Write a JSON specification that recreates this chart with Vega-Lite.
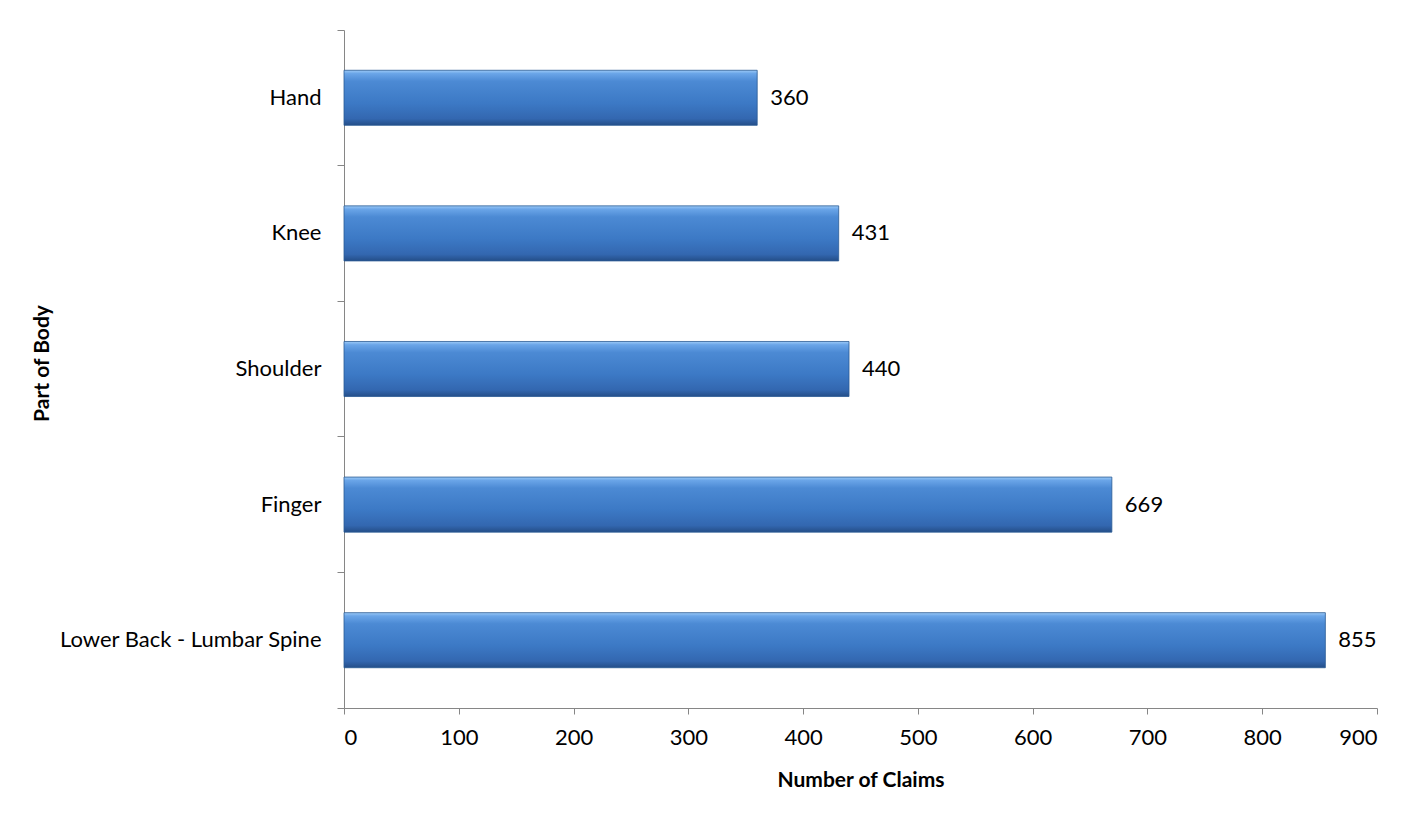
{
  "$schema": "https://vega.github.io/schema/vega-lite/v6.json",
  "autosize": {"type": "none"},
  "width": 1033,
  "height": 678,
  "padding": {"left": 344, "top": 30, "right": 42, "bottom": 115},
  "background": "white",
  "data": {
    "values": [
      {"part": "Hand", "claims": 360},
      {"part": "Knee", "claims": 431},
      {"part": "Shoulder", "claims": 440},
      {"part": "Finger", "claims": 669},
      {"part": "Lower Back - Lumbar Spine", "claims": 855}
    ]
  },
  "config": {
    "view": {"stroke": null},
    "font": "Lato",
    "axis": {
      "domainColor": "#868686",
      "tickColor": "#868686",
      "labelColor": "#000000",
      "titleColor": "#000000",
      "labelFont": "Lato",
      "titleFont": "Lato",
      "grid": false
    }
  },
  "encoding": {
    "y": {
      "field": "part",
      "type": "nominal",
      "sort": ["Hand", "Knee", "Shoulder", "Finger", "Lower Back - Lumbar Spine"],
      "scale": {"paddingInner": 0, "paddingOuter": 0},
      "axis": {
        "title": "Part of Body",
        "titleFontSize": 21,
        "titleFontWeight": "bold",
        "titleX": -302,
        "titleY": 333,
        "titleBaseline": "middle",
        "labelFontSize": 22,
        "labelPadding": 16,
        "labelLimit": 0,
        "tickSize": 7,
        "bandPosition": 1,
        "tickExtra": true,
        "labelFontWeight": "normal"
      }
    },
    "x": {
      "field": "claims",
      "type": "quantitative",
      "scale": {"domain": [0, 900], "nice": false},
      "axis": {
        "title": "Number of Claims",
        "values": [0, 100, 200, 300, 400, 500, 600, 700, 800, 900],
        "titleFontSize": 21,
        "titleFontWeight": "bold",
        "titlePadding": 21,
        "labelFontSize": 22,
        "labelPadding": 13,
        "tickSize": 6
      }
    }
  },
  "layer": [
    {
      "mark": {
        "type": "bar",
        "height": {"band": 0.406},
        "stroke": "#2a5a94",
        "strokeWidth": 0.8,
        "color": {
          "gradient": "linear",
          "x1": 0, "y1": 0, "x2": 0, "y2": 1,
          "stops": [
            {"offset": 0, "color": "#9ccaf7"},
            {"offset": 0.06, "color": "#6aa5e8"},
            {"offset": 0.2, "color": "#4c8ad4"},
            {"offset": 0.6, "color": "#3c79c5"},
            {"offset": 0.88, "color": "#3367b0"},
            {"offset": 1, "color": "#244e88"}
          ]
        }
      }
    },
    {
      "mark": {"type": "text", "align": "left", "baseline": "middle", "dx": 13, "fontSize": 22, "color": "#000000", "font": "Lato"},
      "encoding": {"text": {"field": "claims", "type": "quantitative"}}
    }
  ]
}
